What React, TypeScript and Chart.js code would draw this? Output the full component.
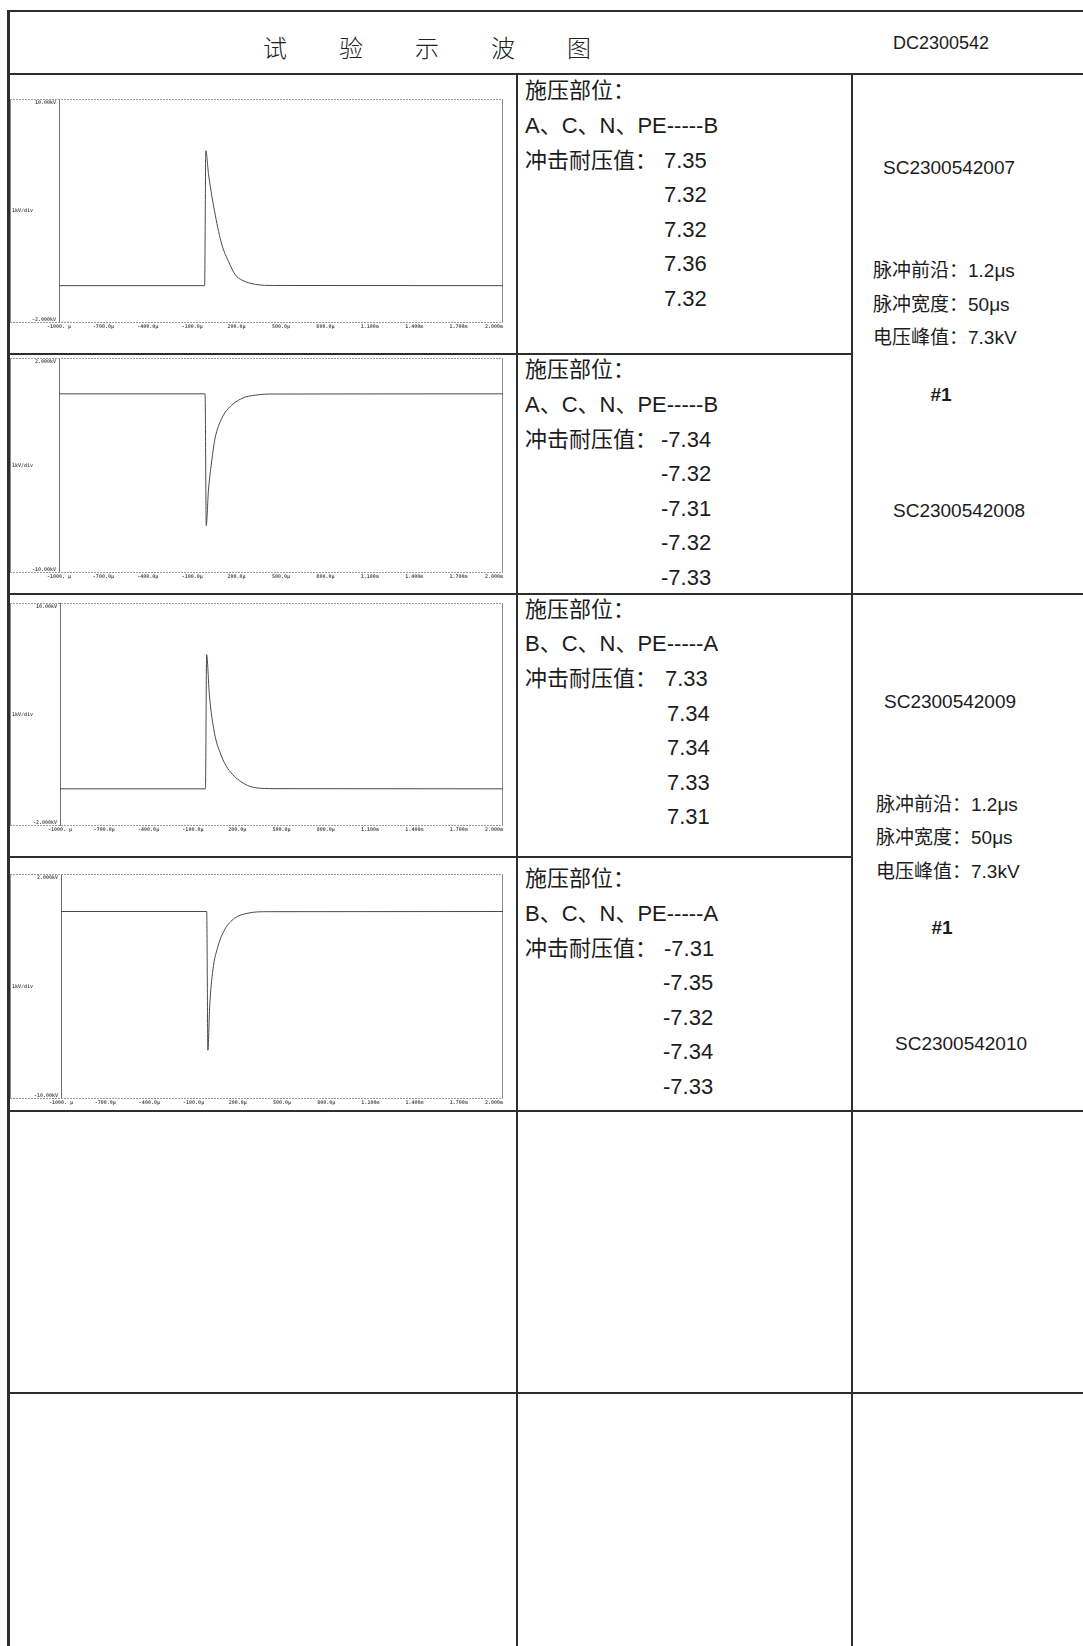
import React, { useEffect, useRef } from "react";
import { Chart, registerables } from "chart.js";

Chart.register(...registerables);

// ---------- data ----------
const xTickValues = [-1000, -700, -400, -100, 200, 500, 800, 1100, 1400, 1700, 2000];
const xTickLabels = ["-1000. μ", "-700.0μ", "-400.0μ", "-100.0μ", "200.0μ", "500.0μ", "800.0μ", "1.100m", "1.400m", "1.700m", "2.000m"];

const time1 = [-1000, -16, -8, 11, 56, 101, 146, 192, 236, 327, 450, 2000];
const volt1 = [0, 0, 7.23, 5.93, 3.78, 2.18, 1.29, 0.57, 0.3, 0.07, 0.01, 0];
const time2 = [-1000, -13, -5, 9, 31, 54, 99, 144, 234, 330, 450, 2000];
const volt2 = [0, 0, -7.36, -5.47, -3.8, -2.5, -1.38, -0.82, -0.26, -0.07, -0.01, 0];
const time3 = [-1000, -15, -7, 11.5, 45, 90, 135, 225, 316, 450, 2000];
const volt3 = [0, 0, 7.22, 5.06, 3.05, 1.83, 1.11, 0.39, 0.07, 0.01, 0];
const time4 = [-1000, -11, -3, 9, 31, 65, 110, 178, 268, 400, 2000];
const volt4 = [0, 0, -7.4, -5.08, -3.12, -1.87, -0.98, -0.36, -0.09, -0.01, 0];

const posRangeLabels = ["10.00kV", "-2.000kV"];
const negRangeLabels = ["2.000kV", "-10.00kV"];
const midAxisLabel = "1kV/div";

const titleText = "试验示波图";
const reportNo = "DC2300542";
const pointLabel = "施压部位：";
const withstandLabel = "冲击耐压值：";
const targets = ["A、C、N、PE-----B", "A、C、N、PE-----B", "B、C、N、PE-----A", "B、C、N、PE-----A"];
const values1 = ["7.35", "7.32", "7.32", "7.36", "7.32"];
const values2 = ["-7.34", "-7.32", "-7.31", "-7.32", "-7.33"];
const values3 = ["7.33", "7.34", "7.34", "7.33", "7.31"];
const values4 = ["-7.31", "-7.35", "-7.32", "-7.34", "-7.33"];
const sampleIds = ["SC2300542007", "SC2300542008", "SC2300542009", "SC2300542010"];
const pulseParams = ["脉冲前沿：1.2μs", "脉冲宽度：50μs", "电压峰值：7.3kV"];
const groupMark = "#1";

// ---------- chart ----------
const scopeFrame = {
  id: "scopeFrame",
  beforeDatasetsDraw(chart: any, _args: any, opts: any) {
    const { ctx, chartArea: a } = chart;
    ctx.save();
    ctx.lineWidth = 1;
    ctx.strokeStyle = "#8c8c8c";
    ctx.beginPath();
    ctx.moveTo(0.5, a.top);
    ctx.lineTo(0.5, a.bottom);
    ctx.moveTo(Math.round(a.right) - 0.5, a.top);
    ctx.lineTo(Math.round(a.right) - 0.5, a.bottom);
    ctx.stroke();
    ctx.strokeStyle = "#6f6f6f";
    ctx.beginPath();
    ctx.moveTo(Math.round(a.left) + 0.5, a.top);
    ctx.lineTo(Math.round(a.left) + 0.5, a.bottom);
    ctx.stroke();
    ctx.strokeStyle = "#9a9a9a";
    ctx.setLineDash([2, 1]);
    ctx.beginPath();
    ctx.moveTo(0, Math.round(a.top) + 0.5);
    ctx.lineTo(a.right, Math.round(a.top) + 0.5);
    ctx.moveTo(0, Math.round(a.bottom) - 0.5);
    ctx.lineTo(a.right, Math.round(a.bottom) - 0.5);
    ctx.stroke();
    ctx.setLineDash([]);
    ctx.fillStyle = "#555";
    ctx.font = 'bold 5px "DejaVu Sans Mono"';
    ctx.textAlign = "right";
    ctx.textBaseline = "top";
    ctx.fillText(opts.topLabel, a.left - 3, a.top + 1);
    ctx.textBaseline = "bottom";
    ctx.fillText(opts.bottomLabel, a.left - 3, a.bottom - 1);
    const y = chart.scales.y;
    ctx.textAlign = "left";
    ctx.textBaseline = "middle";
    ctx.fillText(opts.midLabel, 2, y.getPixelForValue((y.min + y.max) / 2));
    ctx.restore();
  },
};

type ScopeProps = {
  top: number;
  gutter: number;
  plotHeight: number;
  yMin: number;
  yMax: number;
  labels: string[];
  times: number[];
  volts: number[];
};

const BOX_LEFT = 10;
const PLOT_RIGHT = 503;
const RIGHT_PAD = 22;
const X_AXIS_H = 8;

function Scope(p: ScopeProps) {
  const ref = useRef<HTMLCanvasElement>(null);
  const width = PLOT_RIGHT - BOX_LEFT + RIGHT_PAD;
  const height = 1 + p.plotHeight + X_AXIS_H;
  useEffect(() => {
    if (!ref.current) return;
    const chart = new Chart(ref.current, {
      type: "line",
      data: {
        datasets: [
          {
            data: p.times.map((t, i) => ({ x: t, y: p.volts[i] })),
            borderColor: "#4a4a4a",
            borderWidth: 1,
            pointRadius: 0,
            fill: false,
            cubicInterpolationMode: "monotone",
          },
        ],
      },
      options: {
        animation: false,
        responsive: false,
        maintainAspectRatio: false,
        events: [],
        layout: { padding: { left: 0, top: 1, right: RIGHT_PAD, bottom: 0 } },
        plugins: {
          legend: { display: false },
          tooltip: { enabled: false },
          scopeFrame: { topLabel: p.labels[0], bottomLabel: p.labels[1], midLabel: midAxisLabel },
        } as any,
        scales: {
          x: {
            type: "linear",
            min: -1000,
            max: 2000,
            grid: { display: false, drawTicks: false },
            border: { display: false },
            afterBuildTicks: (scale: any) => {
              scale.ticks = xTickValues.map((v) => ({ value: v }));
            },
            afterFit: (scale: any) => {
              scale.height = X_AXIS_H;
            },
            ticks: {
              autoSkip: false,
              maxRotation: 0,
              minRotation: 0,
              padding: 1,
              color: "#555",
              font: { size: 5, weight: "bold", family: '"DejaVu Sans Mono"' },
              callback: (_v: any, i: number) =>
                i === xTickLabels.length - 1 ? xTickLabels[i] + "      " : xTickLabels[i],
            },
          },
          y: {
            type: "linear",
            min: p.yMin,
            max: p.yMax,
            grid: { display: false, drawTicks: false },
            border: { display: false },
            ticks: { display: false },
            afterFit: (scale: any) => {
              scale.width = p.gutter;
            },
          },
        },
      },
      plugins: [scopeFrame as any],
    });
    return () => chart.destroy();
  }, []);
  return (
    <canvas
      ref={ref}
      width={width}
      height={height}
      style={{ position: "absolute", left: BOX_LEFT, top: p.top, width, height }}
    />
  );
}

// ---------- layout helpers ----------
const LINE = "#2e2e2e";
const H = (x1: number, x2: number, y: number, k: string) => (
  <div key={k} style={{ position: "absolute", left: x1, top: y - 1, width: x2 - x1, height: 2, background: LINE }} />
);
const V = (x: number, y1: number, y2: number, k: string, w = 2) => (
  <div key={k} style={{ position: "absolute", left: x - w / 2, top: y1, width: w, height: y2 - y1, background: LINE }} />
);

const FONT = '"Liberation Sans", Arial, "Noto Sans CJK SC", sans-serif';

function Txt(props: { x: number; y: number; size: number; children: any; center?: boolean; bold?: boolean }) {
  const { x, y, size, center, bold } = props;
  return (
    <div
      style={{
        position: "absolute",
        left: center ? x - 150 : x,
        width: center ? 300 : undefined,
        textAlign: center ? "center" : "left",
        top: y - size / 2,
        height: size,
        lineHeight: `${size}px`,
        fontSize: size,
        fontFamily: FONT,
        fontWeight: bold ? 700 : 400,
        color: "#1c1c1c",
        whiteSpace: "nowrap",
      }}
    >
      {props.children}
    </div>
  );
}

const MID_X = 525;
const MID_SIZE = 22;
const STEP = 34.6;

function MiddleBlock(props: { y0: number; target: string; values: string[]; firstX: number; restX: number }) {
  const { y0, target, values, firstX, restX } = props;
  return (
    <>
      <Txt x={MID_X} y={y0} size={MID_SIZE}>{pointLabel}</Txt>
      <Txt x={MID_X} y={y0 + STEP} size={MID_SIZE}>{target}</Txt>
      <Txt x={MID_X} y={y0 + STEP * 2} size={MID_SIZE}>{withstandLabel}</Txt>
      {values.map((v, i) => (
        <Txt key={i} x={i === 0 ? firstX : restX} y={y0 + STEP * (2 + i)} size={MID_SIZE}>{v}</Txt>
      ))}
    </>
  );
}

const RS = 19;

function RightBlock(props: { idA: string; idB: string; yA: number; xA: number; yP: number; xP: number; yM: number; xM: number; yB: number; xB: number }) {
  const p = props;
  return (
    <>
      <Txt x={p.xA} y={p.yA} size={RS}>{p.idA}</Txt>
      {pulseParams.map((s, i) => (
        <Txt key={i} x={p.xP} y={p.yP + i * 33.6} size={RS}>{s}</Txt>
      ))}
      <Txt x={p.xM} y={p.yM} size={RS} center bold>{groupMark}</Txt>
      <Txt x={p.xB} y={p.yB} size={RS}>{p.idB}</Txt>
    </>
  );
}

export default function App() {
  const c1 = 517;
  const c2 = 852;
  return (
    <div style={{ position: "absolute", left: 0, top: 0, width: 1083, height: 1646, overflow: "hidden", background: "#fff" }}>
      {/* table lines */}
      {H(8, 1083, 10.5, "top")}
      {H(8, 1083, 74, "head")}
      {V(8, 10, 1646, "left", 3)}
      {V(c1, 74, 1646, "c1")}
      {V(c2, 74, 1646, "c2")}
      {H(8, c2, 354, "r1")}
      {H(8, 1083, 593.5, "r2")}
      {H(8, c2, 857, "r3")}
      {H(8, 1083, 1111, "r4")}
      {H(8, 1083, 1392.5, "r5")}

      {/* header */}
      <div
        style={{
          position: "absolute",
          left: 263,
          top: 47 - 13,
          height: 26,
          lineHeight: "26px",
          fontSize: 24,
          letterSpacing: 52,
          fontFamily: '"Noto Sans CJK SC", sans-serif',
          fontWeight: 300,
          color: "#222",
          whiteSpace: "nowrap",
        }}
      >
        {titleText}
      </div>
      <Txt x={941} y={43} size={18} center>{reportNo}</Txt>

      {/* charts */}
      <Scope top={98} gutter={49} plotHeight={224} yMin={-2} yMax={10} labels={posRangeLabels} times={time1} volts={volt1} />
      <Scope top={357} gutter={49} plotHeight={215} yMin={-10} yMax={2} labels={negRangeLabels} times={time2} volts={volt2} />
      <Scope top={602} gutter={50} plotHeight={223} yMin={-2} yMax={10} labels={posRangeLabels} times={time3} volts={volt3} />
      <Scope top={873} gutter={51} plotHeight={225} yMin={-10} yMax={2} labels={negRangeLabels} times={time4} volts={volt4} />

      {/* middle column */}
      <MiddleBlock y0={91.3} target={targets[0]} values={values1} firstX={664} restX={664} />
      <MiddleBlock y0={370.4} target={targets[1]} values={values2} firstX={661} restX={661} />
      <MiddleBlock y0={609.7} target={targets[2]} values={values3} firstX={665} restX={667} />
      <MiddleBlock y0={879.4} target={targets[3]} values={values4} firstX={664} restX={663} />

      {/* right column */}
      <RightBlock idA={sampleIds[0]} idB={sampleIds[1]} yA={167} xA={883} yP={270.7} xP={873} yM={394.6} xM={941} yB={510} xB={893} />
      <RightBlock idA={sampleIds[2]} idB={sampleIds[3]} yA={701} xA={884} yP={804} xP={876} yM={927.7} xM={942} yB={1043} xB={895} />
    </div>
  );
}
